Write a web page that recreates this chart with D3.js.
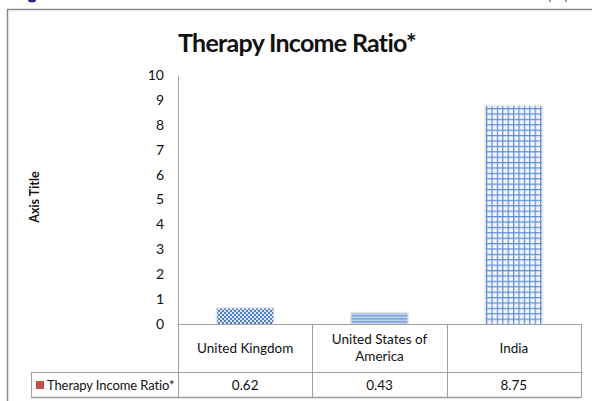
<!DOCTYPE html>
<html>
<head>
<meta charset="utf-8">
<script src="https://cdn.jsdelivr.net/npm/d3@7"></script>
<style>
  html, body { margin: 0; padding: 0; background: #fff; }
  svg { display: block; font-family: Lato, "Open Sans", sans-serif; }
</style>
</head>
<body>
<svg id="chart" width="592" height="401"></svg>
<script>
// Chart data
const categories = ["United Kingdom", "United States of America", "India"];
const headerLines = [["United Kingdom"], ["United States of", "America"], ["India"]];
const seriesName = "Therapy Income Ratio*";
const values = [0.62, 0.43, 8.75];
const valueLabels = ["0.62", "0.43", "8.75"];
const yTicks = [0, 1, 2, 3, 4, 5, 6, 7, 8, 9, 10];
const patternIds = ["checker", "stripes", "grid"];

const svg = d3.select("#chart");

// Layout
const plot = { left: 178, right: 581, top: 75, bottom: 324 };
const table = { headerBottom: 372, bottom: 398, legendLeft: 31 };

const x = d3.scaleBand().domain(categories).range([plot.left, plot.right]).paddingInner(0).paddingOuter(0);
const y = d3.scaleLinear().domain([0, 10]).range([plot.bottom, plot.top]);

// Fill patterns for the bars
const defs = svg.append("defs");
const pChk = defs.append("pattern").attr("id", "checker").attr("patternUnits", "userSpaceOnUse")
  .attr("width", 4).attr("height", 4);
pChk.append("rect").attr("width", 4).attr("height", 4).attr("fill", "#dbe5f5");
pChk.append("rect").attr("width", 2).attr("height", 2).attr("fill", "#4f7fcc");
pChk.append("rect").attr("x", 2).attr("y", 2).attr("width", 2).attr("height", 2).attr("fill", "#4f7fcc");

const pStr = defs.append("pattern").attr("id", "stripes").attr("patternUnits", "userSpaceOnUse")
  .attr("width", 4).attr("height", 3);
pStr.append("rect").attr("width", 4).attr("height", 3).attr("fill", "#c3d4ef");
pStr.append("rect").attr("width", 4).attr("height", 1.6).attr("fill", "#7ea2db");

const pGrid = defs.append("pattern").attr("id", "grid").attr("patternUnits", "userSpaceOnUse")
  .attr("width", 5.4).attr("height", 5.4);
pGrid.append("rect").attr("width", 5.4).attr("height", 5.4).attr("fill", "#f2f6fd");
pGrid.append("rect").attr("width", 5.4).attr("height", 1.2).attr("fill", "#5f8cd8");
pGrid.append("rect").attr("width", 1.2).attr("height", 5.4).attr("fill", "#5f8cd8");

// Outer chart frame
svg.append("rect").attr("x", 7.5).attr("y", 9.5).attr("width", 600).attr("height", 420)
  .attr("fill", "#fff").attr("stroke", "#8c8c8c").attr("stroke-width", 1.5);

// Title
svg.append("text").attr("x", 297).attr("y", 52).attr("text-anchor", "middle")
  .attr("font-size", 25).attr("font-weight", "bold").attr("fill", "#111")
  .attr("letter-spacing", -0.7)
  .text(seriesName);

// Y axis
const yAxis = d3.axisLeft(y).tickValues(yTicks).tickSize(0).tickPadding(14).tickFormat(d3.format("d"));
const yg = svg.append("g").attr("transform", `translate(${plot.left},0)`).call(yAxis);
yg.select(".domain").attr("stroke", "#a6a6a6").attr("stroke-width", 1);
yg.selectAll("text").attr("font-size", 14).attr("fill", "#111").attr("font-family", "Lato, sans-serif");

// Y axis title
svg.append("text").attr("transform", "translate(39,197) rotate(-90)")
  .attr("text-anchor", "middle").attr("font-size", 12.5).attr("font-weight", "bold").attr("fill", "#111")
  .text("Axis Title");

// Bars
const barW = 56;
const bars = svg.append("g").selectAll("g").data(values).join("g");
bars.append("rect")
  .attr("x", (d, i) => x(categories[i]) + x.bandwidth() / 2 - barW / 2 - 1.5)
  .attr("y", d => y(d) - 1.5)
  .attr("width", barW + 3)
  .attr("height", d => plot.bottom - y(d) + 1.5)
  .attr("rx", 2)
  .attr("fill", "#e6e6e6");
bars.append("rect")
  .attr("x", (d, i) => x(categories[i]) + x.bandwidth() / 2 - barW / 2)
  .attr("y", d => y(d))
  .attr("width", barW)
  .attr("height", d => plot.bottom - y(d))
  .attr("fill", (d, i) => `url(#${patternIds[i]})`);

// Data table beneath the plot
const lineColor = "#a0a0a0";
const tg = svg.append("g").attr("stroke", lineColor).attr("stroke-width", 1).attr("fill", "none");
tg.append("line").attr("x1", plot.left).attr("x2", plot.right).attr("y1", plot.bottom + 0.5).attr("y2", plot.bottom + 0.5);
tg.append("line").attr("x1", table.legendLeft).attr("x2", plot.right).attr("y1", table.headerBottom + 0.5).attr("y2", table.headerBottom + 0.5);
tg.append("line").attr("x1", table.legendLeft).attr("x2", plot.right).attr("y1", table.bottom - 0.5).attr("y2", table.bottom - 0.5)
  .attr("stroke", "#9a9a9a").attr("stroke-width", 1.5);
tg.append("line").attr("x1", table.legendLeft + 0.5).attr("x2", table.legendLeft + 0.5).attr("y1", table.headerBottom).attr("y2", table.bottom);
const colEdges = categories.map(c => x(c)).concat([plot.right]);
colEdges.forEach(cx => {
  tg.append("line").attr("x1", Math.round(cx) + 0.5).attr("x2", Math.round(cx) + 0.5)
    .attr("y1", plot.bottom).attr("y2", table.bottom);
});

// Header cells (category names)
const hdr = svg.append("g").attr("font-size", 13.5).attr("fill", "#111").attr("text-anchor", "middle");
headerLines.forEach((lines, i) => {
  const cx = x(categories[i]) + x.bandwidth() / 2;
  const mid = (plot.bottom + table.headerBottom) / 2;
  lines.forEach((ln, j) => {
    hdr.append("text").attr("x", cx)
      .attr("y", mid + 4.5 + (j - (lines.length - 1) / 2) * 17)
      .text(ln);
  });
});

// Value cells
const rowMid = (table.headerBottom + table.bottom) / 2;
values.forEach((v, i) => {
  svg.append("text").attr("x", x(categories[i]) + x.bandwidth() / 2).attr("y", rowMid + 4.5)
    .attr("text-anchor", "middle").attr("font-size", 13.5).attr("fill", "#111")
    .text(valueLabels[i]);
});

// Legend key cell
svg.append("rect").attr("x", 36).attr("y", rowMid - 4).attr("width", 8).attr("height", 8).attr("fill", "#c0504d");
svg.append("text").attr("x", 47).attr("y", rowMid + 4.5).attr("font-size", 13).attr("fill", "#111")
  .attr("letter-spacing", -0.1)
  .text(seriesName);

// Fragments of page content at the top edge
svg.append("ellipse").attr("cx", 32).attr("cy", 0).attr("rx", 4).attr("ry", 2.5).attr("fill", "#2a2a7a");
svg.append("rect").attr("x", 549).attr("y", 0).attr("width", 2).attr("height", 2).attr("fill", "#a090d0");
svg.append("rect").attr("x", 565).attr("y", 0).attr("width", 2).attr("height", 2).attr("fill", "#a090d0");
</script>
</body>
</html>
